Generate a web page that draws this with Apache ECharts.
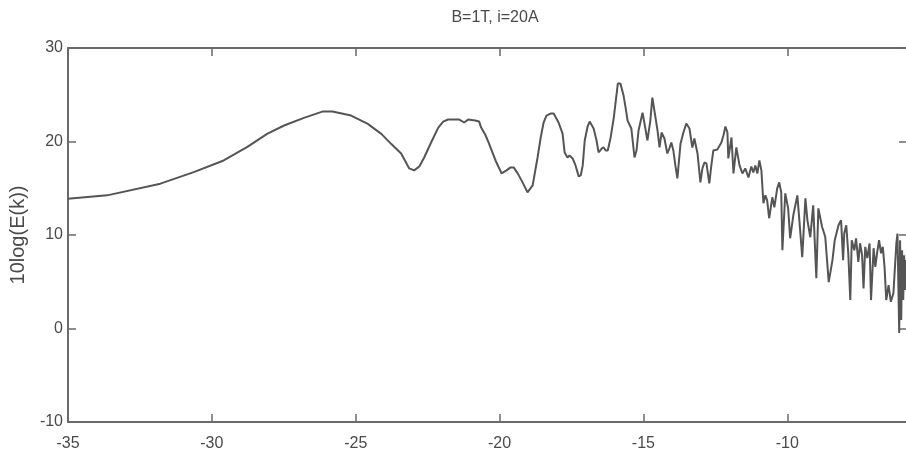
<!DOCTYPE html>
<html>
<head>
<meta charset="utf-8">
<script src="https://cdn.jsdelivr.net/npm/echarts@6/dist/echarts.min.js"></script>
<style>html,body{margin:0;padding:0;background:#fff;}#c{width:906px;height:460px;}</style>
</head>
<body>
<div id="c"></div>
<script>
var titleText = 'B=1T, i=20A';
var yAxisName = '10log(E(k))';
var xTicks = [-35, -30, -25, -20, -15, -10];
var yTicks = [-10, 0, 10, 20, 30];
var xs = [
-35.00,-33.64,-31.79,-30.63,-29.59,-28.78,-28.08,-27.49,-26.80,-26.16,-25.81,-25.16,-24.58,-24.11,-23.77,
-23.42,-23.14,-22.97,-22.79,-22.62,-22.38,-22.13,-21.96,-21.79,-21.61,-21.40,-21.23,-21.09,-20.85,-20.71,
-20.64,-20.50,-20.38,-20.14,-19.93,-19.76,-19.62,-19.51,-19.37,-19.20,-19.03,-18.85,-18.68,-18.57,-18.47,
-18.37,-18.23,-18.12,-17.95,-17.81,-17.74,-17.64,-17.57,-17.46,-17.36,-17.25,-17.18,-17.11,-17.04,-16.94,
-16.87,-16.73,-16.63,-16.56,-16.45,-16.38,-16.31,-16.24,-16.14,-16.03,-15.96,-15.89,-15.80,-15.69,-15.62,
-15.55,-15.49,-15.42,-15.31,-15.24,-15.17,-15.03,-14.97,-14.86,-14.76,-14.69,-14.58,-14.51,-14.44,-14.37,
-14.27,-14.17,-14.10,-14.03,-13.96,-13.89,-13.82,-13.71,-13.61,-13.51,-13.40,-13.30,-13.23,-13.12,-13.02,
-12.95,-12.88,-12.81,-12.71,-12.64,-12.57,-12.43,-12.29,-12.22,-12.15,-12.08,-12.05,-11.94,-11.87,-11.77,
-11.66,-11.56,-11.46,-11.35,-11.25,-11.18,-11.11,-11.04,-10.97,-10.90,-10.83,-10.76,-10.70,-10.63,-10.52,
-10.45,-10.35,-10.28,-10.21,-10.17,-10.07,-9.97,-9.90,-9.79,-9.65,-9.58,-9.48,-9.37,-9.30,-9.20,
-9.10,-8.99,-8.92,-8.79,-8.73,-8.68,-8.60,-8.56,-8.51,-8.43,-8.35,-8.22,-8.13,-8.06,-8.02,
-7.95,-7.88,-7.81,-7.76,-7.67,-7.61,-7.53,-7.47,-7.40,-7.35,-7.29,-7.22,-7.14,-7.09,-7.00,
-6.94,-6.88,-6.81,-6.74,-6.68,-6.62,-6.56,-6.48,-6.40,-6.31,-6.21,-6.17,-6.11,-6.08,-6.04,
-6.01,-5.97,-5.94,-5.90,-5.87,-5.83,-5.79,-5.75
];
var ys = [
13.89,14.24,15.49,16.73,17.97,19.39,20.82,21.71,22.53,23.20,23.20,22.77,21.89,20.82,19.75,
18.72,17.12,16.91,17.33,18.29,19.89,21.49,22.13,22.35,22.35,22.35,22.03,22.35,22.24,22.13,
21.49,20.75,19.89,17.97,16.59,16.91,17.23,17.23,16.59,15.63,14.56,15.31,18.29,20.43,22.03,
22.77,22.99,22.99,22.03,20.85,18.83,18.29,18.51,18.19,17.44,16.27,16.37,17.44,20.11,21.60,
22.13,21.39,20.11,18.83,19.25,19.36,19.04,19.04,20.43,22.56,24.37,26.19,26.19,24.91,23.63,
22.24,22.03,21.39,18.29,19.04,21.17,23.09,22.99,20.11,22.24,24.69,22.56,21.17,19.36,20.96,
20.32,18.72,19.25,19.89,19.04,17.44,16.05,19.79,20.96,21.92,21.39,19.36,20.32,18.72,15.63,
17.12,17.76,17.65,15.52,17.44,19.04,19.15,19.89,20.64,21.60,20.96,18.19,20.43,16.59,19.36,
17.44,16.59,17.12,16.16,17.33,16.69,17.44,16.59,17.97,16.91,13.39,14.24,13.71,11.79,14.03,
12.96,14.99,15.63,14.56,8.37,14.45,12.85,9.65,12.11,14.24,11.57,7.63,13.92,11.57,9.76,
13.17,5.39,12.85,10.86,10.29,9.79,6.59,4.96,5.17,7.31,9.44,11.04,11.57,7.31,10.19,
11.04,8.05,3.04,9.44,8.37,9.65,7.13,9.12,7.84,4.29,8.73,7.52,9.09,3.04,8.59,
6.59,8.05,9.44,8.05,8.73,6.59,3.04,4.64,2.86,3.79,9.09,10.15,-0.48,9.44,0.91,
8.37,3.04,7.84,4.11,7.31,3.6,6.8,5.2
];
var seriesData = xs.map(function (x, i) { return [x, ys[i]]; });

var textColor = '#4a4a4a';
var frameColor = '#6a6a6a';
var fontFam = '"Liberation Sans", Arial, Helvetica, sans-serif';

var chart = echarts.init(document.getElementById('c'), null, {renderer: 'canvas'});
chart.setOption({
  animation: false,
  backgroundColor: '#ffffff',
  title: {
    text: titleText,
    left: 490,
    top: 5,
    textAlign: 'center',
    textStyle: {color: textColor, fontSize: 16, fontWeight: 'normal', fontFamily: fontFam}
  },
  grid: {left: 68, top: 48, width: 843, height: 374, show: false, containLabel: false, outerBoundsMode: 'none'},
  xAxis: [{
    type: 'value', min: xTicks[0], max: -5.7, interval: 5,
    axisLine: {show: true, onZero: false, lineStyle: {color: frameColor, width: 2}},
    axisTick: {show: true, inside: true, length: 8, lineStyle: {color: frameColor, width: 1.5}},
    axisLabel: {color: textColor, fontSize: 16, margin: 14, fontFamily: fontFam, showMaxLabel: false},
    splitLine: {show: false}
  }, {
    type: 'value', position: 'top', min: xTicks[0], max: -5.7, interval: 5,
    axisLine: {show: true, onZero: false, lineStyle: {color: frameColor, width: 2}},
    axisTick: {show: true, inside: true, length: 8, lineStyle: {color: frameColor, width: 1.5}},
    axisLabel: {show: false},
    splitLine: {show: false}
  }],
  yAxis: [{
    type: 'value', min: yTicks[0], max: yTicks[yTicks.length - 1], interval: 10,
    name: yAxisName, nameLocation: 'middle', nameGap: 27, nameRotate: 90,
    nameTextStyle: {color: textColor, fontSize: 20, fontFamily: fontFam},
    axisLine: {show: true, onZero: false, lineStyle: {color: frameColor, width: 2}},
    axisTick: {show: true, inside: true, length: 8, lineStyle: {color: frameColor, width: 1.5}},
    axisLabel: {color: textColor, fontSize: 16, margin: 5, fontFamily: fontFam},
    splitLine: {show: false}
  }, {
    type: 'value', position: 'right', min: yTicks[0], max: yTicks[yTicks.length - 1], interval: 10,
    axisLine: {show: true, onZero: false, lineStyle: {color: frameColor, width: 2}},
    axisTick: {show: true, inside: true, length: 12, lineStyle: {color: frameColor, width: 1.5}},
    axisLabel: {show: false},
    splitLine: {show: false}
  }],
  series: [{
    type: 'line',
    data: seriesData,
    showSymbol: false,
    symbol: 'none',
    lineStyle: {color: '#555555', width: 2},
    clip: true
  }]
});
</script>
</body>
</html>
